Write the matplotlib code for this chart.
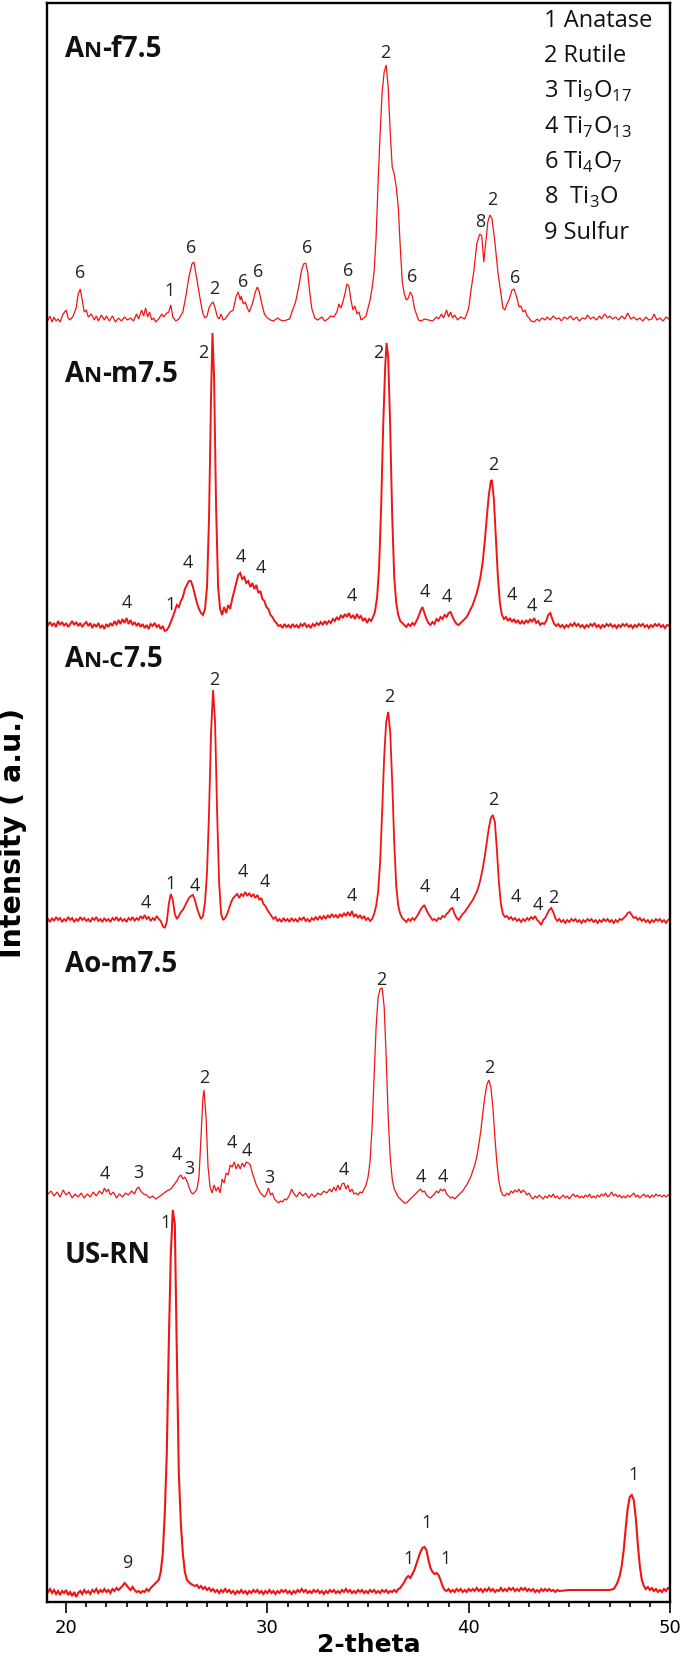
import numpy as np
import matplotlib
matplotlib.use("Agg")
import matplotlib.pyplot as plt
from matplotlib.ticker import MultipleLocator

anf = [(19.1, 2), (19.2, 6), (19.3, 0), (19.4, 5), (19.5, 1), (19.6, 3), (19.7, 0), (19.85, 8), (20.0, 12), (20.1, 4),
       (20.2, 2), (20.35, 6), (20.5, 14), (20.6, 28), (20.7, 33), (20.8, 22), (20.9, 10), (21.0, 12), (21.1, 5),
       (21.25, 8), (21.4, 2), (21.5, 6), (21.6, 1), (21.75, 7), (21.9, 2), (22.0, 6), (22.15, 1), (22.3, 6),
       (22.45, 0), (22.6, 4), (22.75, 1), (22.9, 5), (23.05, 2), (23.2, 4), (23.35, 1), (23.5, 8), (23.6, 3),
       (23.75, 12), (23.85, 6), (23.95, 14), (24.05, 5), (24.15, 10), (24.25, 2), (24.35, 4), (24.45, 0), (24.6, 3),
       (24.75, 8), (24.85, 5), (25.0, 9), (25.1, 10), (25.2, 17), (25.3, 5), (25.45, 1), (25.6, 3), (25.8, 10),
       (25.95, 26), (26.1, 45), (26.25, 58), (26.35, 60), (26.45, 48), (26.55, 36), (26.7, 18), (26.8, 8), (26.9, 4),
       (27.0, 6), (27.1, 14), (27.2, 18), (27.3, 20), (27.4, 14), (27.5, 6), (27.6, 3), (27.7, 8), (27.8, 2),
       (27.9, 3), (28.0, 6), (28.15, 10), (28.3, 12), (28.45, 26), (28.55, 30), (28.65, 22), (28.7, 26), (28.8, 18),
       (28.9, 20), (29.0, 14), (29.1, 10), (29.25, 18), (29.4, 30), (29.5, 35), (29.6, 30), (29.7, 20), (29.85, 8),
       (30.0, 4), (30.15, 2), (30.3, 1), (30.5, 4), (30.65, 2), (30.8, 1), (30.95, 2), (31.1, 3), (31.25, 12),
       (31.4, 20), (31.55, 35), (31.7, 52), (31.8, 58), (31.9, 59), (32.0, 50), (32.1, 30), (32.2, 14), (32.35, 4),
       (32.5, 2), (32.7, 5), (32.85, 1), (33.0, 3), (33.15, 6), (33.3, 5), (33.45, 10), (33.55, 18), (33.65, 14),
       (33.75, 20), (33.85, 28), (33.95, 38), (34.05, 36), (34.15, 22), (34.25, 12), (34.35, 16), (34.45, 8),
       (34.55, 10), (34.65, 2), (34.8, 4), (34.9, 6), (35.0, 14), (35.1, 22), (35.2, 34), (35.3, 50), (35.4, 85),
       (35.5, 140), (35.6, 189), (35.7, 230), (35.8, 250), (35.9, 257), (36.0, 235), (36.1, 190), (36.2, 155),
       (36.3, 148), (36.4, 135), (36.5, 115), (36.6, 75), (36.7, 40), (36.8, 28), (36.9, 22), (37.0, 24), (37.1, 30),
       (37.2, 26), (37.3, 14), (37.4, 8), (37.5, 2), (37.65, 1), (37.8, 3), (38.0, 2), (38.2, 1), (38.4, 5),
       (38.5, 3), (38.65, 8), (38.75, 4), (38.9, 12), (39.0, 5), (39.1, 10), (39.2, 4), (39.3, 7), (39.45, 2),
       (39.6, 5), (39.8, 3), (39.9, 8), (40.0, 14), (40.1, 30), (40.25, 50), (40.4, 78), (40.55, 88), (40.65, 86),
       (40.75, 60), (40.85, 80), (40.95, 100), (41.05, 107), (41.15, 104), (41.3, 80), (41.45, 50), (41.6, 28),
       (41.7, 14), (41.8, 12), (41.9, 18), (42.0, 22), (42.15, 32), (42.25, 33), (42.4, 24), (42.5, 15), (42.6, 16),
       (42.7, 10), (42.8, 12), (42.9, 6), (43.0, 4), (43.1, 1), (43.25, 0), (43.4, 3), (43.5, 1), (43.65, 4),
       (43.8, 2), (43.9, 5), (44.05, 2), (44.2, 6), (44.35, 3), (44.5, 4), (44.6, 1), (44.75, 5), (44.9, 3),
       (45.05, 6), (45.2, 2), (45.35, 5), (45.5, 1), (45.65, 4), (45.8, 3), (45.9, 7), (46.05, 3), (46.2, 5),
       (46.35, 2), (46.5, 6), (46.6, 3), (46.75, 8), (46.9, 4), (47.0, 6), (47.15, 3), (47.3, 5), (47.45, 2),
       (47.6, 6), (47.75, 3), (47.9, 9), (48.05, 3), (48.2, 5), (48.35, 2), (48.5, 4), (48.65, 1), (48.8, 5),
       (48.95, 2), (49.1, 3), (49.2, 8), (49.35, 2), (49.5, 4), (49.65, 1), (49.8, 5), (49.95, 3), (50.0, 2)]

anm = [(19.1, 2), (19.2, 5), (19.3, 1), (19.4, 4), (19.5, 0), (19.6, 6), (19.7, 2), (19.8, 5), (19.9, 1), (20.0, 4),
       (20.1, 0), (20.2, 3), (20.3, 6), (20.4, 2), (20.5, 5), (20.6, 1), (20.7, 4), (20.8, 0), (20.9, 3), (21.0, 5),
       (21.1, 1), (21.2, 4), (21.3, -1), (21.4, 3), (21.5, 0), (21.6, 4), (21.7, -1), (21.8, 2), (21.9, -2), (22.0, 3),
       (22.1, 0), (22.2, 4), (22.3, 1), (22.4, 6), (22.5, 2), (22.6, 7), (22.7, 3), (22.8, 8), (22.9, 4), (23.0, 9),
       (23.1, 3), (23.2, 7), (23.3, 2), (23.4, 5), (23.5, 1), (23.6, 4), (23.7, 0), (23.8, 3), (23.9, -1), (24.0, 2),
       (24.1, -2), (24.2, 3), (24.3, 1), (24.4, 4), (24.5, 0), (24.6, 2), (24.7, -2), (24.8, 1), (24.9, -4),
       (25.0, -3), (25.1, 0), (25.2, 5), (25.3, 10), (25.4, 16), (25.5, 22), (25.6, 20), (25.7, 26), (25.8, 30),
       (25.9, 38), (26.0, 42), (26.1, 46), (26.2, 46), (26.3, 40), (26.4, 32), (26.5, 24), (26.6, 18), (26.7, 14),
       (26.8, 12), (26.9, 18), (27.0, 40), (27.1, 110), (27.2, 230), (27.27, 294), (27.35, 250), (27.45, 120),
       (27.55, 40), (27.65, 18), (27.75, 12), (27.85, 20), (27.95, 14), (28.05, 22), (28.15, 18), (28.25, 28),
       (28.35, 36), (28.45, 44), (28.55, 52), (28.65, 54), (28.75, 48), (28.85, 50), (28.95, 44), (29.05, 46),
       (29.15, 40), (29.25, 44), (29.35, 38), (29.45, 42), (29.55, 34), (29.65, 36), (29.75, 28), (29.85, 26),
       (29.95, 20), (30.05, 18), (30.15, 12), (30.25, 10), (30.35, 6), (30.45, 4), (30.55, 1), (30.65, 2),
       (30.75, -1), (30.85, 3), (30.95, 0), (31.05, 2), (31.15, -1), (31.25, 3), (31.35, 0), (31.45, 2), (31.55, -1),
       (31.65, 3), (31.75, 1), (31.85, 4), (31.95, 0), (32.05, 2), (32.15, -1), (32.25, 3), (32.35, 1), (32.45, 4),
       (32.55, 2), (32.65, 5), (32.75, 2), (32.85, 6), (32.95, 3), (33.05, 6), (33.15, 4), (33.25, 8), (33.35, 6),
       (33.45, 10), (33.55, 7), (33.65, 12), (33.75, 9), (33.85, 13), (33.95, 10), (34.05, 14), (34.15, 9),
       (34.25, 12), (34.35, 8), (34.45, 13), (34.55, 9), (34.65, 11), (34.75, 6), (34.85, 9), (34.95, 4), (35.05, 8),
       (35.15, 6), (35.25, 10), (35.35, 16), (35.45, 30), (35.55, 60), (35.65, 120), (35.75, 200), (35.85, 260),
       (35.92, 284), (36.0, 270), (36.1, 200), (36.2, 110), (36.3, 50), (36.4, 24), (36.5, 12), (36.6, 6),
       (36.7, 4), (36.8, 2), (36.9, 0), (37.0, 3), (37.1, 1), (37.2, 4), (37.3, 2), (37.4, 6), (37.5, 10),
       (37.6, 16), (37.7, 20), (37.8, 14), (37.9, 8), (38.0, 4), (38.1, 2), (38.2, 5), (38.3, 3), (38.4, 8),
       (38.5, 6), (38.6, 10), (38.7, 8), (38.8, 12), (38.9, 10), (39.0, 14), (39.1, 15), (39.2, 10), (39.3, 6),
       (39.4, 3), (39.5, 2), (39.6, 4), (39.7, 6), (39.8, 8), (39.9, 10), (40.0, 14), (40.1, 18), (40.2, 22),
       (40.3, 28), (40.4, 34), (40.5, 42), (40.6, 52), (40.7, 66), (40.8, 86), (40.9, 110), (41.0, 132), (41.1, 146),
       (41.15, 147), (41.25, 128), (41.35, 90), (41.45, 50), (41.55, 24), (41.65, 12), (41.75, 8), (41.85, 10),
       (41.95, 6), (42.05, 9), (42.15, 5), (42.25, 8), (42.35, 4), (42.45, 7), (42.55, 3), (42.65, 6), (42.75, 3),
       (42.85, 7), (42.95, 4), (43.05, 8), (43.15, 5), (43.25, 9), (43.35, 4), (43.45, 6), (43.55, 2), (43.65, 4),
       (43.75, 3), (43.85, 6), (43.95, 12), (44.05, 14), (44.15, 8), (44.25, 3), (44.35, 1), (44.45, 3), (44.55, 0),
       (44.65, 2), (44.75, -1), (44.85, 2), (44.95, 0), (45.05, 3), (45.15, 1), (45.25, 4), (45.35, 1), (45.45, 3),
       (45.55, 0), (45.65, 2), (45.75, -1), (45.85, 2), (45.95, 0), (46.05, 3), (46.15, 1), (46.25, 4), (46.35, 0),
       (46.45, 2), (46.55, -1), (46.65, 2), (46.75, 0), (46.85, 3), (46.95, 1), (47.05, 3), (47.15, 0), (47.25, 2),
       (47.35, -1), (47.45, 2), (47.55, 0), (47.65, 3), (47.75, 1), (47.85, 3), (47.95, 0), (48.05, 2), (48.15, -1),
       (48.25, 2), (48.35, 0), (48.45, 3), (48.55, 1), (48.65, 3), (48.75, 0), (48.85, 2), (48.95, -1), (49.05, 2),
       (49.15, 0), (49.25, 3), (49.35, 1), (49.45, 3), (49.55, 0), (49.65, 2), (49.75, -1), (49.85, 2), (50.0, 1)]

anc = [(19.1, 3), (19.2, 0), (19.3, 4), (19.4, 1), (19.5, 5), (19.6, 2), (19.7, 4), (19.8, 0), (19.9, 3), (20.0, 1),
       (20.1, 5), (20.2, 2), (20.3, 4), (20.4, 0), (20.5, 3), (20.6, 1), (20.7, 5), (20.8, 2), (20.9, 4), (21.0, 1),
       (21.1, 3), (21.2, 0), (21.3, 4), (21.4, 2), (21.5, 5), (21.6, 1), (21.7, 3), (21.8, 0), (21.9, 4), (22.0, 1),
       (22.1, 3), (22.2, 0), (22.3, 4), (22.4, 2), (22.5, 5), (22.6, 1), (22.7, 4), (22.8, 1), (22.9, 3), (23.0, 0),
       (23.1, 4), (23.2, 2), (23.3, 5), (23.4, 1), (23.5, 4), (23.6, 2), (23.7, 6), (23.8, 3), (23.9, 7), (24.0, 3),
       (24.1, 5), (24.2, 1), (24.3, 4), (24.4, 2), (24.5, 6), (24.6, 3), (24.7, 1), (24.8, -4), (24.9, -6), (25.0, 0),
       (25.1, 18), (25.2, 28), (25.3, 22), (25.4, 8), (25.5, 3), (25.6, 6), (25.7, 10), (25.8, 12), (25.9, 16),
       (26.0, 20), (26.1, 24), (26.2, 26), (26.3, 27), (26.4, 22), (26.5, 14), (26.6, 8), (26.7, 3), (26.8, 6),
       (26.9, 20), (27.0, 50), (27.1, 110), (27.2, 190), (27.3, 232), (27.4, 200), (27.5, 110), (27.6, 40),
       (27.7, 8), (27.8, 2), (27.9, 4), (28.0, 8), (28.1, 14), (28.2, 20), (28.3, 24), (28.4, 26), (28.5, 28),
       (28.6, 24), (28.7, 28), (28.8, 26), (28.9, 30), (29.0, 26), (29.1, 29), (29.2, 25), (29.3, 28), (29.4, 24),
       (29.5, 27), (29.6, 22), (29.7, 24), (29.8, 18), (29.9, 16), (30.0, 12), (30.1, 9), (30.2, 6), (30.3, 3),
       (30.4, 5), (30.5, 1), (30.6, 3), (30.7, 0), (30.8, 4), (30.9, 1), (31.0, 3), (31.1, 0), (31.2, 4), (31.3, 1),
       (31.4, 3), (31.5, 0), (31.6, 4), (31.7, 2), (31.8, 5), (31.9, 1), (32.0, 3), (32.1, 0), (32.2, 4), (32.3, 2),
       (32.4, 5), (32.5, 2), (32.6, 6), (32.7, 3), (32.8, 6), (32.9, 3), (33.0, 7), (33.1, 4), (33.2, 8), (33.3, 5),
       (33.4, 7), (33.5, 4), (33.6, 8), (33.7, 5), (33.8, 9), (33.9, 6), (34.0, 10), (34.1, 6), (34.2, 11),
       (34.3, 5), (34.4, 8), (34.5, 4), (34.6, 7), (34.7, 3), (34.8, 6), (34.9, 2), (35.0, 4), (35.1, 1), (35.2, 3),
       (35.3, 8), (35.4, 16), (35.5, 30), (35.6, 60), (35.7, 110), (35.8, 165), (35.9, 200), (36.0, 210),
       (36.1, 190), (36.2, 140), (36.3, 80), (36.4, 36), (36.5, 16), (36.6, 8), (36.7, 4), (36.8, 2), (36.9, 0),
       (37.0, 3), (37.1, 1), (37.2, 4), (37.3, 2), (37.4, 5), (37.5, 8), (37.6, 12), (37.7, 15), (37.8, 17),
       (37.9, 12), (38.0, 8), (38.1, 5), (38.2, 2), (38.3, 3), (38.4, 1), (38.5, 4), (38.6, 3), (38.7, 6), (38.8, 5),
       (38.9, 8), (39.0, 10), (39.1, 13), (39.2, 14), (39.3, 8), (39.4, 4), (39.5, 2), (39.6, 5), (39.7, 8),
       (39.8, 10), (39.9, 13), (40.0, 16), (40.1, 19), (40.2, 22), (40.3, 26), (40.4, 30), (40.5, 36), (40.6, 44),
       (40.7, 54), (40.8, 66), (40.9, 80), (41.0, 94), (41.1, 104), (41.2, 107), (41.3, 100), (41.4, 72), (41.5, 40),
       (41.6, 18), (41.7, 8), (41.8, 5), (41.9, 6), (42.0, 3), (42.1, 5), (42.2, 2), (42.3, 4), (42.4, 1), (42.5, 3),
       (42.6, 0), (42.7, 3), (42.8, 1), (42.9, 4), (43.0, 2), (43.1, 5), (43.2, 3), (43.3, 6), (43.4, 2), (43.5, 0),
       (43.6, -3), (43.7, 2), (43.8, 4), (43.9, 8), (44.0, 12), (44.1, 14), (44.2, 10), (44.3, 4), (44.4, 1),
       (44.5, 3), (44.6, 0), (44.7, 2), (44.8, -1), (44.9, 2), (45.0, 0), (45.1, 3), (45.2, 1), (45.3, 3), (45.4, 0),
       (45.5, 2), (45.6, -1), (45.7, 2), (45.8, 0), (45.9, 3), (46.0, 1), (46.1, 3), (46.2, 0), (46.3, 2),
       (46.4, -1), (46.5, 2), (46.6, 0), (46.7, 3), (46.8, 1), (46.9, 3), (47.0, 0), (47.1, 2), (47.2, -1),
       (47.3, 2), (47.4, 0), (47.5, 3), (47.6, 2), (47.7, 4), (47.8, 6), (47.9, 9), (48.0, 10), (48.1, 7), (48.2, 4),
       (48.3, 5), (48.4, 2), (48.5, 4), (48.6, 1), (48.7, 3), (48.8, 0), (48.9, 2), (49.0, -1), (49.1, 2), (49.2, 0),
       (49.3, 3), (49.4, 1), (49.5, 3), (49.6, 0), (49.7, 2), (49.8, -1), (49.9, 2), (50.0, 3)]

aom = [(19.1, 3), (19.25, 6), (19.4, 1), (19.55, 5), (19.7, 0), (19.85, 7), (20.0, 2), (20.15, 5), (20.3, -1),
       (20.45, 3), (20.6, 0), (20.75, 4), (20.9, -1), (21.05, 3), (21.2, 0), (21.35, 5), (21.5, 1), (21.65, 6),
       (21.8, 3), (21.9, 9), (22.0, 5), (22.1, 8), (22.2, 2), (22.35, 5), (22.5, -1), (22.65, 3), (22.8, 0),
       (22.95, 4), (23.1, 2), (23.25, 6), (23.4, 3), (23.5, 8), (23.6, 10), (23.7, 6), (23.85, 3), (24.0, 2),
       (24.15, -1), (24.3, 1), (24.45, -2), (24.6, 0), (24.8, 3), (25.0, 6), (25.2, 8), (25.35, 12), (25.5, 16),
       (25.6, 20), (25.7, 22), (25.8, 18), (25.9, 20), (26.0, 16), (26.1, 10), (26.2, 5), (26.3, 3), (26.4, 5),
       (26.5, 8), (26.6, 20), (26.7, 60), (26.8, 100), (26.85, 107), (26.95, 80), (27.05, 30), (27.15, 10),
       (27.25, 4), (27.35, 12), (27.45, 6), (27.55, 10), (27.65, 4), (27.75, 18), (27.85, 14), (27.95, 24),
       (28.05, 22), (28.15, 32), (28.25, 30), (28.35, 35), (28.45, 28), (28.55, 33), (28.65, 28), (28.75, 34),
       (28.85, 30), (28.95, 35), (29.05, 34), (29.15, 32), (29.25, 24), (29.35, 18), (29.45, 12), (29.55, 8),
       (29.65, 4), (29.75, 2), (29.85, 0), (29.95, 3), (30.05, 9), (30.15, 2), (30.25, 4), (30.35, -2), (30.45, -4),
       (30.55, -6), (30.65, -4), (30.75, -5), (30.85, -2), (30.95, -3), (31.1, 2), (31.2, 8), (31.3, 4), (31.45, 0),
       (31.6, 5), (31.75, 1), (31.9, 4), (32.05, -1), (32.2, 3), (32.35, 0), (32.5, 4), (32.65, 2), (32.8, 6),
       (32.95, 4), (33.1, 8), (33.2, 5), (33.3, 10), (33.4, 6), (33.5, 12), (33.6, 7), (33.7, 13), (33.8, 14),
       (33.9, 8), (34.0, 12), (34.1, 5), (34.2, 8), (34.3, 3), (34.4, 4), (34.5, 2), (34.6, 5), (34.7, 4), (34.8, 8),
       (34.9, 12), (35.0, 20), (35.1, 36), (35.2, 70), (35.3, 120), (35.4, 170), (35.5, 200), (35.6, 208),
       (35.7, 209), (35.8, 190), (35.9, 140), (36.0, 80), (36.1, 40), (36.2, 18), (36.3, 8), (36.4, 4), (36.5, 0),
       (36.6, -2), (36.7, -4), (36.8, -6), (36.9, -6), (37.0, -4), (37.1, -2), (37.2, 0), (37.3, 2), (37.4, 4),
       (37.5, 6), (37.6, 8), (37.7, 5), (37.8, 6), (37.9, 2), (38.0, 0), (38.1, -1), (38.2, 1), (38.3, 3), (38.4, 6),
       (38.5, 4), (38.6, 8), (38.7, 6), (38.8, 8), (38.9, 3), (39.0, 1), (39.1, -1), (39.2, 0), (39.3, -2),
       (39.4, 0), (39.5, 2), (39.6, 4), (39.7, 6), (39.8, 9), (39.9, 12), (40.0, 16), (40.1, 20), (40.2, 26),
       (40.3, 32), (40.4, 40), (40.5, 52), (40.6, 66), (40.7, 84), (40.8, 100), (40.9, 112), (41.0, 117),
       (41.1, 110), (41.2, 90), (41.3, 60), (41.4, 34), (41.5, 16), (41.6, 6), (41.7, 2), (41.8, 1), (41.9, 4),
       (42.0, 2), (42.1, 6), (42.2, 4), (42.3, 7), (42.4, 5), (42.5, 8), (42.6, 4), (42.7, 7), (42.8, 5), (42.9, 2),
       (43.0, 4), (43.1, 0), (43.2, -2), (43.3, 1), (43.4, -1), (43.5, 2), (43.6, 0), (43.7, -2), (43.8, 1),
       (43.9, -1), (44.0, 2), (44.1, 0), (44.2, 3), (44.3, -1), (44.4, 1), (44.5, -2), (44.6, 0), (44.7, 2),
       (44.8, -1), (44.9, 1), (45.0, -2), (45.1, 1), (45.2, 3), (45.3, 0), (45.4, 2), (45.5, -1), (45.6, 1),
       (45.7, -1), (45.8, 2), (45.9, 0), (46.0, 3), (46.1, -1), (46.2, 1), (46.3, -1), (46.4, 2), (46.5, 0),
       (46.6, 3), (46.7, 1), (46.8, 4), (46.9, 0), (47.0, 2), (47.1, 5), (47.2, 1), (47.3, 3), (47.4, 0), (47.5, 2),
       (47.6, -1), (47.7, 1), (47.8, -1), (47.9, 2), (48.0, 0), (48.1, 2), (48.2, 4), (48.3, 0), (48.4, 2),
       (48.5, -1), (48.6, 1), (48.7, 3), (48.8, 0), (48.9, 2), (49.0, -1), (49.1, 2), (49.2, 0), (49.3, 3),
       (49.4, 1), (49.5, 2), (49.6, 0), (49.7, 2), (49.8, 0), (49.9, 2), (50.0, 1)]

usrn = [(19.1, 2), (19.2, 5), (19.3, 1), (19.4, 4), (19.5, 0), (19.6, 3), (19.7, -1), (19.8, 3), (19.9, 1), (20.0, 4),
        (20.1, -1), (20.2, 2), (20.3, -2), (20.4, 2), (20.5, -3), (20.6, 1), (20.7, 3), (20.8, 0), (20.9, 4),
        (21.0, 1), (21.1, 3), (21.2, 0), (21.3, 4), (21.4, 2), (21.5, 5), (21.6, 1), (21.7, 4), (21.8, 2), (21.9, 5),
        (22.0, 2), (22.1, 4), (22.2, 1), (22.3, 5), (22.4, 3), (22.5, 6), (22.6, 4), (22.7, 6), (22.8, 8),
        (22.9, 11), (23.0, 9), (23.1, 6), (23.2, 4), (23.3, 7), (23.4, 4), (23.5, 2), (23.6, 3), (23.7, 1),
        (23.8, 3), (23.9, 2), (24.0, 5), (24.1, 3), (24.2, 6), (24.3, 8), (24.4, 10), (24.5, 12), (24.6, 14),
        (24.7, 22), (24.8, 40), (24.9, 80), (25.0, 140), (25.1, 250), (25.2, 340), (25.3, 384), (25.4, 370),
        (25.5, 240), (25.6, 120), (25.7, 70), (25.8, 40), (25.9, 22), (26.0, 14), (26.1, 12), (26.2, 10), (26.3, 9),
        (26.4, 8), (26.5, 9), (26.6, 6), (26.7, 8), (26.8, 5), (26.9, 7), (27.0, 4), (27.1, 6), (27.2, 3), (27.3, 5),
        (27.4, 2), (27.5, 4), (27.6, 1), (27.7, 4), (27.8, 2), (27.9, 5), (28.0, 2), (28.1, 4), (28.2, 1), (28.3, 3),
        (28.4, 0), (28.5, 3), (28.6, 1), (28.7, 4), (28.8, 1), (28.9, 3), (29.0, 0), (29.1, 3), (29.2, 1), (29.3, 4),
        (29.4, 2), (29.5, 4), (29.6, 1), (29.7, 3), (29.8, 0), (29.9, 3), (30.0, 1), (30.1, 4), (30.2, 1), (30.3, 3),
        (30.4, 0), (30.5, 3), (30.6, 1), (30.7, 4), (30.8, 2), (30.9, 4), (31.0, 1), (31.1, 3), (31.2, 0), (31.3, 3),
        (31.4, 1), (31.5, 4), (31.6, 2), (31.7, 5), (31.8, 2), (31.9, 4), (32.0, 1), (32.1, 3), (32.2, 1), (32.3, 4),
        (32.4, 2), (32.5, 4), (32.6, 1), (32.7, 3), (32.8, 0), (32.9, 3), (33.0, 1), (33.1, 4), (33.2, 2), (33.3, 4),
        (33.4, 1), (33.5, 3), (33.6, 1), (33.7, 4), (33.8, 2), (33.9, 5), (34.0, 2), (34.1, 4), (34.2, 1), (34.3, 3),
        (34.4, 1), (34.5, 4), (34.6, 2), (34.7, 4), (34.8, 1), (34.9, 3), (35.0, 1), (35.1, 4), (35.2, 2), (35.3, 4),
        (35.4, 1), (35.5, 3), (35.6, 1), (35.7, 4), (35.8, 2), (35.9, 4), (36.0, 1), (36.1, 3), (36.2, 2), (36.3, 4),
        (36.4, 2), (36.5, 5), (36.6, 6), (36.7, 9), (36.8, 12), (36.9, 16), (37.0, 18), (37.1, 16), (37.2, 20),
        (37.3, 24), (37.4, 30), (37.5, 36), (37.6, 42), (37.7, 46), (37.8, 47), (37.9, 44), (38.0, 34), (38.1, 26),
        (38.2, 22), (38.3, 20), (38.4, 21), (38.5, 19), (38.6, 14), (38.7, 8), (38.8, 4), (38.9, 3), (39.0, 5),
        (39.1, 2), (39.2, 4), (39.3, 2), (39.4, 5), (39.5, 3), (39.6, 5), (39.7, 2), (39.8, 4), (39.9, 2), (40.0, 5),
        (40.1, 3), (40.2, 5), (40.3, 3), (40.4, 6), (40.5, 3), (40.6, 5), (40.7, 2), (40.8, 5), (40.9, 3), (41.0, 6),
        (41.1, 3), (41.2, 5), (41.3, 2), (41.4, 4), (41.5, 3), (41.6, 6), (41.7, 3), (41.8, 5), (41.9, 3), (42.0, 6),
        (42.1, 4), (42.2, 6), (42.3, 3), (42.4, 5), (42.5, 3), (42.6, 6), (42.7, 4), (42.8, 6), (42.9, 3), (43.0, 5),
        (43.1, 3), (43.2, 5), (43.3, 2), (43.4, 4), (43.5, 2), (43.6, 5), (43.7, 3), (43.8, 5), (43.9, 3), (44.0, 5),
        (44.1, 3), (44.2, 4), (44.3, 2), (44.4, 4), (44.5, 3), (45.0, 4), (45.5, 4), (46.0, 4), (46.5, 4), (47.0, 4),
        (47.2, 5), (47.3, 8), (47.4, 12), (47.5, 18), (47.6, 28), (47.7, 44), (47.8, 66), (47.9, 86), (48.0, 97),
        (48.1, 99), (48.2, 94), (48.3, 76), (48.4, 50), (48.5, 28), (48.6, 14), (48.7, 8), (48.8, 5), (48.9, 7),
        (49.0, 4), (49.1, 6), (49.2, 3), (49.3, 5), (49.4, 2), (49.5, 4), (49.6, 2), (49.7, 5), (49.8, 3),
        (49.9, 6), (50.0, 5)]

# peak labels: (2theta, height above baseline, phase number)
anf_lab = [(20.7, 49, "6"), (25.15, 31, "1"), (26.23, 74, "6"), (27.36, 33, "2"), (28.77, 40, "6"),
           (29.53, 50, "6"), (31.97, 74, "6"), (34.03, 51, "6"), (35.84, 269, "2"), (37.18, 45, "6"),
           (40.57, 100, "8"), (41.16, 122, "2"), (42.29, 44, "6")]
anm_lab = [(23.0, 24, "4"), (25.2, 22, "1"), (26.06, 64, "4"), (26.8, 274, "2"), (28.66, 70, "4"),
           (29.69, 59, "4"), (34.2, 31, "4"), (35.5, 274, "2"), (37.8, 35, "4"), (38.92, 30, "4"),
           (41.2, 162, "2"), (42.14, 32, "4"), (43.15, 21, "4"), (43.9, 30, "2")]
anc_lab = [(23.95, 19, "4"), (25.2, 38, "1"), (26.38, 36, "4"), (27.36, 242, "2"), (28.77, 50, "4"),
           (29.86, 40, "4"), (34.2, 26, "4"), (36.05, 225, "2"), (37.8, 35, "4"), (39.3, 26, "4"),
           (41.2, 122, "2"), (42.35, 25, "4"), (43.43, 17, "4"), (44.2, 24, "2")]
aom_lab = [(21.93, 23, "4"), (23.6, 24, "3"), (25.5, 42, "4"), (26.1, 28, "3"), (26.88, 119, "2"),
           (28.23, 54, "4"), (28.99, 46, "4"), (30.08, 19, "3"), (33.81, 27, "4"), (35.67, 217, "2"),
           (37.62, 20, "4"), (38.7, 20, "4"), (41.0, 129, "2")]
usrn_lab = [(23.06, 31, "9"), (24.93, 371, "1"), (37.0, 35, "1"), (37.9, 71, "1"), (38.86, 35, "1"),
            (48.2, 119, "1")]

phases = ["1 Anatase", "2 Rutile", "3 Ti$_{9}$O$_{17}$", "4 Ti$_{7}$O$_{13}$", "6 Ti$_{4}$O$_{7}$",
          "8  Ti$_{3}$O", "9 Sulfur"]

# stacking (baseline of every trace, same units as the heights)
traces = [anf, anm, anc, aom, usrn]
labels = [anf_lab, anm_lab, anc_lab, aom_lab, usrn_lab]
offsets = [1280, 975, 680, 405, 8]
widths = [0.9, 1.4, 1.3, 0.9, 1.5]
# sample names as pieces: (text, small caps?), baseline y in data units
names = [([("A", 0), ("N", 1), ("-f7.5", 0)], 1545), ([("A", 0), ("N", 1), ("-m7.5", 0)], 1220),
         ([("A", 0), ("N-C", 1), ("7.5", 0)], 935), ([("Ao-m7.5", 0)], 630), ([("US-RN", 0)], 339)]

plt.rcParams['mathtext.fontset'] = 'custom'
plt.rcParams['mathtext.rm'] = 'Open Sans'

fig = plt.figure(figsize=(6.85, 16.61), dpi=100)
ax = fig.add_axes([47/685, 59/1661, 623/685, 1599/1661])
red = '#f01414'

ax.set_xlim(19.05, 50)
ax.set_ylim(0, 1599)

for pts, off, lw in zip(traces, offsets, widths):
    arr = np.array(pts)
    ax.plot(arr[:, 0], arr[:, 1] + off, color=red, lw=lw, solid_joinstyle='miter')

for labs, off in zip(labels, offsets):
    for x, h, s in labs:
        ax.text(x, off + h, s, ha='center', va='center', fontsize=13,
                family='Open Sans', color='#222222')

# sample names, pieces set one after another on a common baseline
renderer = fig.canvas.get_renderer()
for pieces, y in names:
    x = 19.95
    for s, small in pieces:
        t = ax.text(x, y, s, ha='left', va='baseline', fontsize=16 if small else 20,
                    fontweight='bold', family='Open Sans', color='#111111')
        bb = t.get_window_extent(renderer)
        x = ax.transData.inverted().transform((bb.x1, bb.y0))[0]

for i, s in enumerate(phases):
    ax.text(43.73, 1581 - 35.3 * i, s, ha='left', va='center', fontsize=17,
            family='Open Sans', color='#111111')

ax.set_yticks([])
ax.xaxis.set_major_locator(MultipleLocator(10))
ax.xaxis.set_minor_locator(MultipleLocator(1))
ax.tick_params(axis='x', which='major', direction='out', length=8, width=1.2, labelsize=13, pad=4)
ax.tick_params(axis='x', which='minor', direction='out', length=3.5, width=1.2)
for sp in ax.spines.values():
    sp.set_linewidth(1.7)

ax.set_xlabel("2-theta", fontsize=18, fontweight='bold', va='center')
ax.xaxis.set_label_coords(0.517, -0.027)
ax.set_ylabel("Intensity ( a.u.)", fontsize=20.5, fontweight='bold', va='center')
ax.yaxis.set_label_coords(-0.0546, 0.481)

fig.savefig("out.png", dpi=100)
